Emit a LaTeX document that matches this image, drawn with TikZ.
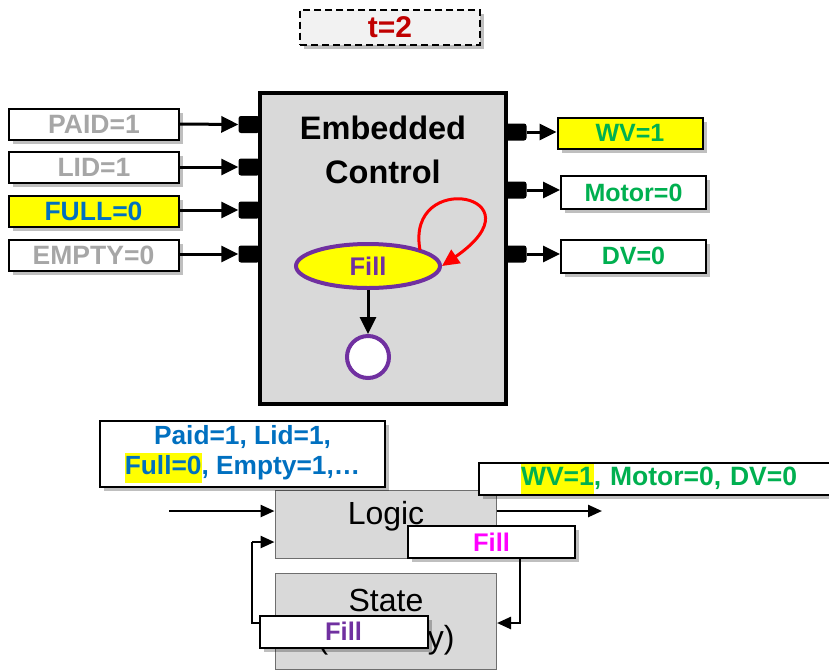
\documentclass[tikz,border=0pt]{standalone}
\usepackage{fontspec}
\setmainfont{Liberation Sans}
\usetikzlibrary{arrows.meta,shapes.geometric,shadows}
\definecolor{txgray}{HTML}{A6A6A6}
\definecolor{txblue}{HTML}{0070C0}
\definecolor{txgreen}{HTML}{00B050}
\definecolor{txred}{HTML}{C00000}
\definecolor{txpurple}{HTML}{7030A0}
\definecolor{txmag}{HTML}{FF00FF}
\definecolor{blkgray}{HTML}{D9D9D9}
\definecolor{tfill}{HTML}{F2F2F2}
\definecolor{hlyellow}{HTML}{FFFF00}
\newcommand\hlt[1]{{\setlength\fboxsep{0pt}\colorbox{hlyellow}{\strut #1}}}
\tikzset{
  shd/.style={drop shadow={shadow xshift=4pt,shadow yshift=-4pt,opacity=0.25,fill=black}},
  sigbox/.style={draw=black,line width=2pt,fill=white,minimum height=31pt,inner sep=0pt,shd,
     font=\fontsize{26.5}{30}\selectfont\bfseries},
  port/.style={fill=black,rounded corners=2.5pt,minimum width=21pt,minimum height=17pt,inner sep=0pt},
  arr/.style={line width=3pt,-{Triangle[length=17pt,width=16pt]}},
  larr/.style={line width=2.5pt,-{Triangle[length=14pt,width=12pt]}},
  lline/.style={line width=2.5pt},
  grayblk/.style={draw={rgb,255:red,110;green,110;blue,110},line width=1pt,fill=blkgray,inner sep=0pt},
}
\begin{document}
\begin{tikzpicture}[x=1pt,y=-1pt]
\clip (0,0) rectangle (829,670);
\fill[white] (0,0) rectangle (829,670);

% time box
\node[draw=black,dash pattern=on 7pt off 4pt,line width=2pt,fill=tfill,minimum width=180pt,minimum height=35pt,shd,
  text=txred,font=\fontsize{30}{32}\selectfont\bfseries] (time) at (390,27) {t=2};

% main block
\node[draw=black,line width=3.5pt,fill=blkgray,minimum width=246pt,minimum height=311pt,inner sep=0pt] (blk) at (383,248.5) {};
\node[align=center,font=\fontsize{32.5}{44}\selectfont\bfseries] (title) at (383,150) {Embedded\\Control};

% input ports and boxes
\node[port] (p1) at (249,124.5) {};
\node[port] (p2) at (249,167) {};
\node[port] (p3) at (249,210) {};
\node[port] (p4) at (249,254) {};
\node[sigbox,minimum width=170pt,text=txgray] (in1) at (94,124) {PAID=1};
\node[sigbox,minimum width=170pt,text=txgray] (in2) at (94,167) {LID=1};
\node[sigbox,minimum width=170pt,text=txblue,fill=hlyellow] (in3) at (93.5,211.5) {FULL=0};
\node[sigbox,minimum width=170pt,text=txgray] (in4) at (93.5,255) {EMPTY=0};
\draw[arr] (in1.east) -- (p1.west);
\draw[arr] (in2.east) -- (p2.west);
\draw[arr] (in3.east |- p3) -- (p3.west);
\draw[arr] (in4.east |- p4) -- (p4.west);

% output ports and boxes
\node[port] (q1) at (516,132) {};
\node[port] (q2) at (516,190) {};
\node[port] (q3) at (516,254) {};
\node[sigbox,minimum width=145pt,text=txgreen,fill=hlyellow,font=\fontsize{25}{30}\selectfont\bfseries] (out1) at (630,133) {WV=1};
\node[sigbox,minimum width=145pt,minimum height=33pt,text=txgreen,font=\fontsize{25}{30}\selectfont\bfseries] (out2) at (633.5,192.5) {Motor=0};
\node[sigbox,minimum width=145pt,minimum height=33pt,text=txgreen,font=\fontsize{25}{30}\selectfont\bfseries] (out3) at (633.5,256) {DV=0};
\draw[arr] (q1.east) -- (out1.west |- q1);
\draw[arr] (q2.east) -- (out2.west |- q2);
\draw[arr] (q3.east) -- (out3.west |- q3);

% state machine
\node[ellipse,draw=txpurple,line width=4pt,fill=hlyellow,minimum width=144pt,minimum height=44pt,inner sep=0pt,
  text=txpurple,font=\fontsize{25.5}{28}\selectfont\bfseries] (fill) at (368,266) {Fill};
\node[circle,draw=txpurple,line width=4pt,fill=white,minimum size=42pt,inner sep=0pt] (fin) at (368,357) {};
\draw[arr] (fill.south) -- (fin.north);
\coordinate (loopst) at (420,250);
\draw[red,line width=3pt,-{Triangle[length=17pt,width=16pt]}] (loopst) .. controls (405,168) and (545,195) .. (fill.east);

% bottom part
\node[grayblk,minimum width=221pt,minimum height=96pt] (state) at (386,621) {};
\node[font=\fontsize{32}{36}\selectfont] (statet) at (386,600) {State};
\node[font=\fontsize{32}{36}\selectfont] (memt) at (386,640) {(Memory)};
\node[grayblk,minimum width=221pt,minimum height=68pt] (logic) at (385.5,524) {};
\node[font=\fontsize{32}{36}\selectfont] (logict) at (386,516) {Logic};

\node[sigbox,minimum width=285pt,minimum height=66pt,align=center,text=txblue,font=\fontsize{26.3}{30}\selectfont\bfseries]
  (inputs) at (242.5,454) {Paid=1, Lid=1,\\\hlt{Full=0}, Empty=1,\dots};
\node[sigbox,text width=352pt,minimum height=32pt,align=left,text=txgreen,anchor=west,font=\fontsize{26.5}{30}\selectfont\bfseries]
  (outputs) at (478,479) {\hspace*{42pt}\hlt{WV=1}, Motor=0, DV=0};

\coordinate (inst) at (169,511);
\coordinate (outen) at (602,511);
\draw[larr] (inst) -- (inst -| logic.west);
\draw[larr] (logic.east |- outen) -- (outen);

\node[sigbox,minimum width=167pt,minimum height=32pt,text=txmag,font=\fontsize{25.5}{30}\selectfont\bfseries] (fillm) at (491.5,542) {Fill};
\node[sigbox,minimum width=168pt,minimum height=32pt,text=txpurple,font=\fontsize{25.5}{30}\selectfont\bfseries] (fillp) at (343.5,631.5) {Fill};

\coordinate (rtop) at (520,558);
\coordinate (rbot) at (520,623);
\draw[larr] (rtop) -- (rbot) -- (rbot -| state.east);
\coordinate (lbot) at (252,623);
\coordinate (ltop) at (252,542);
\draw[lline] (fillp.west |- lbot) -- (lbot) -- (ltop);
\draw[larr] (ltop) -- (ltop -| logic.west);
\end{tikzpicture}
\end{document}
